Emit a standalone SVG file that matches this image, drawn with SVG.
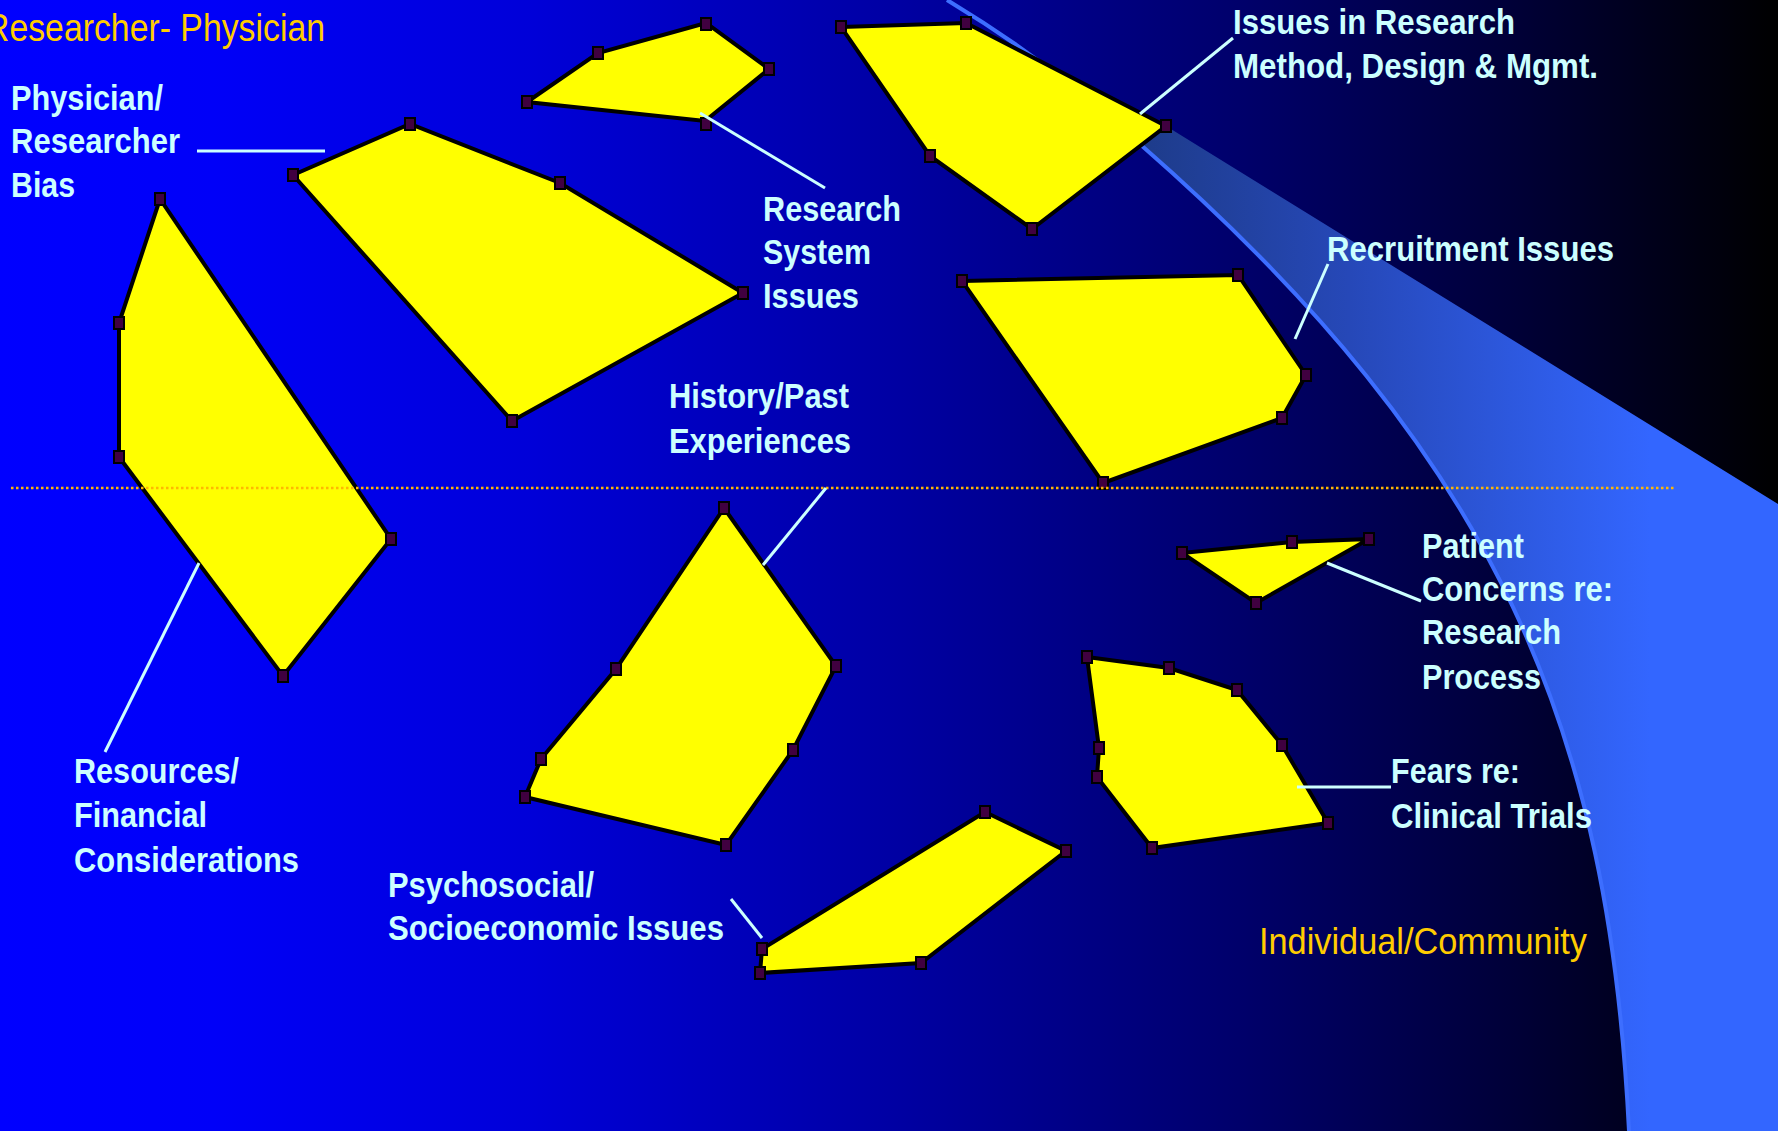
<svg xmlns="http://www.w3.org/2000/svg" width="1778" height="1131" viewBox="0 0 1778 1131">
<defs>
<linearGradient id="bg" gradientUnits="userSpaceOnUse" x1="0" y1="0" x2="1778" y2="0">
<stop offset="0" stop-color="#0000FF"/>
<stop offset="0.12" stop-color="#0000F8"/>
<stop offset="0.3" stop-color="#0000D8"/>
<stop offset="0.5" stop-color="#0000A4"/>
<stop offset="0.7" stop-color="#00006A"/>
<stop offset="0.85" stop-color="#000038"/>
<stop offset="1" stop-color="#000000"/>
</linearGradient>
<linearGradient id="beam" gradientUnits="userSpaceOnUse" x1="1150" y1="0" x2="1650" y2="0">
<stop offset="0" stop-color="#1E3C8C"/>
<stop offset="0.4" stop-color="#2648B8"/>
<stop offset="1" stop-color="#3366FF"/>
</linearGradient>
</defs>
<style>
.poly{fill:#FFFF00;stroke:#000000;stroke-width:4;stroke-linejoin:miter}
.mk{fill:#400040;stroke:#000000;stroke-width:2}
.lbl{font-family:"Liberation Sans Narrow","Liberation Sans",Arial,sans-serif;font-weight:bold;font-size:35px;fill:#CCFFFF}
.ttl{font-family:"Liberation Sans Narrow","Liberation Sans",Arial,sans-serif;font-size:38px;fill:#FFCC00}
.lead{stroke:#CCFFFF;stroke-width:3;fill:none}
</style>
<rect x="0" y="0" width="1778" height="1131" fill="url(#bg)"/>
<path d="M1166,126 L1778,504 L1778,1131 L1629,1131 C1609,731 1501,460 1141,145 Z" fill="url(#beam)"/>
<path d="M947,0 C1010,38 1080,88 1141,145 C1501,460 1609,731 1629,1131" fill="none" stroke="#3D6EFF" stroke-width="4"/>

<g id="node-research-system">
<polygon class="poly" points="527,102 598,53 706,23 769,69 705,121"/>
<rect class="mk" x="522" y="96" width="10" height="12"/>
<rect class="mk" x="593" y="47" width="10" height="12"/>
<rect class="mk" x="701" y="18" width="10" height="12"/>
<rect class="mk" x="764" y="63" width="10" height="12"/>
<rect class="mk" x="701" y="118" width="10" height="12"/>
<text class="lbl" x="763" y="221" textLength="138" lengthAdjust="spacingAndGlyphs">Research</text>
<text class="lbl" x="763" y="264" textLength="108" lengthAdjust="spacingAndGlyphs">System</text>
<text class="lbl" x="763" y="308" textLength="96" lengthAdjust="spacingAndGlyphs">Issues</text>
</g>

<g id="node-physician-bias">
<polygon class="poly" points="293,175 410,124 560,183 743,293 512,421"/>
<rect class="mk" x="288" y="169" width="10" height="12"/>
<rect class="mk" x="405" y="118" width="10" height="12"/>
<rect class="mk" x="555" y="177" width="10" height="12"/>
<rect class="mk" x="738" y="287" width="10" height="12"/>
<rect class="mk" x="507" y="415" width="10" height="12"/>
<text class="lbl" x="11" y="110" textLength="152" lengthAdjust="spacingAndGlyphs">Physician/</text>
<text class="lbl" x="11" y="153" textLength="169" lengthAdjust="spacingAndGlyphs">Researcher</text>
<text class="lbl" x="11" y="197" textLength="64" lengthAdjust="spacingAndGlyphs">Bias</text>
</g>

<g id="node-resources">
<polygon class="poly" points="160,199 119,323 119,457 283,676 391,539"/>
<rect class="mk" x="155" y="193" width="10" height="12"/>
<rect class="mk" x="114" y="317" width="10" height="12"/>
<rect class="mk" x="114" y="451" width="10" height="12"/>
<rect class="mk" x="278" y="670" width="10" height="12"/>
<rect class="mk" x="386" y="533" width="10" height="12"/>
<text class="lbl" x="74" y="783" textLength="165" lengthAdjust="spacingAndGlyphs">Resources/</text>
<text class="lbl" x="74" y="827" textLength="133" lengthAdjust="spacingAndGlyphs">Financial</text>
<text class="lbl" x="74" y="872" textLength="225" lengthAdjust="spacingAndGlyphs">Considerations</text>
</g>

<g id="node-method-design">
<polygon class="poly" points="841,27 966,23 1166,126 1032,229 930,156"/>
<rect class="mk" x="836" y="21" width="10" height="12"/>
<rect class="mk" x="961" y="17" width="10" height="12"/>
<rect class="mk" x="1161" y="120" width="10" height="12"/>
<rect class="mk" x="1027" y="223" width="10" height="12"/>
<rect class="mk" x="925" y="150" width="10" height="12"/>
<text class="lbl" x="1233" y="34" textLength="282" lengthAdjust="spacingAndGlyphs">Issues in Research</text>
<text class="lbl" x="1233" y="78" textLength="365" lengthAdjust="spacingAndGlyphs">Method, Design &amp; Mgmt.</text>
</g>

<g id="node-recruitment">
<polygon class="poly" points="962,281 1238,275 1306,375 1282,418 1103,483"/>
<rect class="mk" x="957" y="275" width="10" height="12"/>
<rect class="mk" x="1233" y="269" width="10" height="12"/>
<rect class="mk" x="1301" y="369" width="10" height="12"/>
<rect class="mk" x="1277" y="412" width="10" height="12"/>
<rect class="mk" x="1098" y="477" width="10" height="12"/>
<text class="lbl" x="1327" y="261" textLength="287" lengthAdjust="spacingAndGlyphs">Recruitment Issues</text>
</g>

<g id="node-history">
<polygon class="poly" points="724,508 836,666 793,750 726,845 525,797 541,759 616,669"/>
<rect class="mk" x="719" y="502" width="10" height="12"/>
<rect class="mk" x="831" y="660" width="10" height="12"/>
<rect class="mk" x="788" y="744" width="10" height="12"/>
<rect class="mk" x="721" y="839" width="10" height="12"/>
<rect class="mk" x="520" y="791" width="10" height="12"/>
<rect class="mk" x="536" y="753" width="10" height="12"/>
<rect class="mk" x="611" y="663" width="10" height="12"/>
<text class="lbl" x="669" y="408" textLength="180" lengthAdjust="spacingAndGlyphs">History/Past</text>
<text class="lbl" x="669" y="453" textLength="182" lengthAdjust="spacingAndGlyphs">Experiences</text>
</g>

<g id="node-psychosocial">
<polygon class="poly" points="985,812 1066,851 921,963 760,973 762,949"/>
<rect class="mk" x="980" y="806" width="10" height="12"/>
<rect class="mk" x="1061" y="845" width="10" height="12"/>
<rect class="mk" x="916" y="957" width="10" height="12"/>
<rect class="mk" x="755" y="967" width="10" height="12"/>
<rect class="mk" x="757" y="943" width="10" height="12"/>
<text class="lbl" x="388" y="897" textLength="206" lengthAdjust="spacingAndGlyphs">Psychosocial/</text>
<text class="lbl" x="388" y="940" textLength="336" lengthAdjust="spacingAndGlyphs">Socioeconomic Issues</text>
</g>

<g id="node-patient-concerns">
<polygon class="poly" points="1182,553 1292,542 1369,539 1256,603"/>
<rect class="mk" x="1177" y="547" width="10" height="12"/>
<rect class="mk" x="1287" y="536" width="10" height="12"/>
<rect class="mk" x="1364" y="533" width="10" height="12"/>
<rect class="mk" x="1251" y="597" width="10" height="12"/>
<text class="lbl" x="1422" y="558" textLength="102" lengthAdjust="spacingAndGlyphs">Patient</text>
<text class="lbl" x="1422" y="601" textLength="191" lengthAdjust="spacingAndGlyphs">Concerns re:</text>
<text class="lbl" x="1422" y="644" textLength="139" lengthAdjust="spacingAndGlyphs">Research</text>
<text class="lbl" x="1422" y="689" textLength="119" lengthAdjust="spacingAndGlyphs">Process</text>
</g>

<g id="node-fears">
<polygon class="poly" points="1087,657 1169,668 1237,690 1282,745 1328,823 1152,848 1097,777 1099,748"/>
<rect class="mk" x="1082" y="651" width="10" height="12"/>
<rect class="mk" x="1164" y="662" width="10" height="12"/>
<rect class="mk" x="1232" y="684" width="10" height="12"/>
<rect class="mk" x="1277" y="739" width="10" height="12"/>
<rect class="mk" x="1323" y="817" width="10" height="12"/>
<rect class="mk" x="1147" y="842" width="10" height="12"/>
<rect class="mk" x="1092" y="771" width="10" height="12"/>
<rect class="mk" x="1094" y="742" width="10" height="12"/>
<text class="lbl" x="1391" y="783" textLength="129" lengthAdjust="spacingAndGlyphs">Fears re:</text>
<text class="lbl" x="1391" y="828" textLength="201" lengthAdjust="spacingAndGlyphs">Clinical Trials</text>
</g>

<line x1="11" y1="488" x2="1674" y2="488" stroke="#FFB800" stroke-width="2.5" stroke-dasharray="2.5 2.5"/>

<g id="connectors">
<line class="lead" x1="197" y1="151" x2="325" y2="151"/>
<line class="lead" x1="700" y1="113" x2="825" y2="188"/>
<line class="lead" x1="1140" y1="114" x2="1233" y2="38"/>
<line class="lead" x1="1328" y1="264" x2="1295" y2="339"/>
<line class="lead" x1="826" y1="488" x2="763" y2="565"/>
<line class="lead" x1="199" y1="563" x2="105" y2="752"/>
<line class="lead" x1="731" y1="899" x2="762" y2="938"/>
<line class="lead" x1="1327" y1="563" x2="1421" y2="601"/>
<line class="lead" x1="1297" y1="787" x2="1391" y2="787"/>
</g>

<g id="titles">
<text class="ttl" x="-15" y="41" textLength="340" lengthAdjust="spacingAndGlyphs">Researcher- Physician</text>
<text class="ttl" x="1259" y="954" textLength="328" lengthAdjust="spacingAndGlyphs" style="font-size:37px">Individual/Community</text>
</g>
</svg>
